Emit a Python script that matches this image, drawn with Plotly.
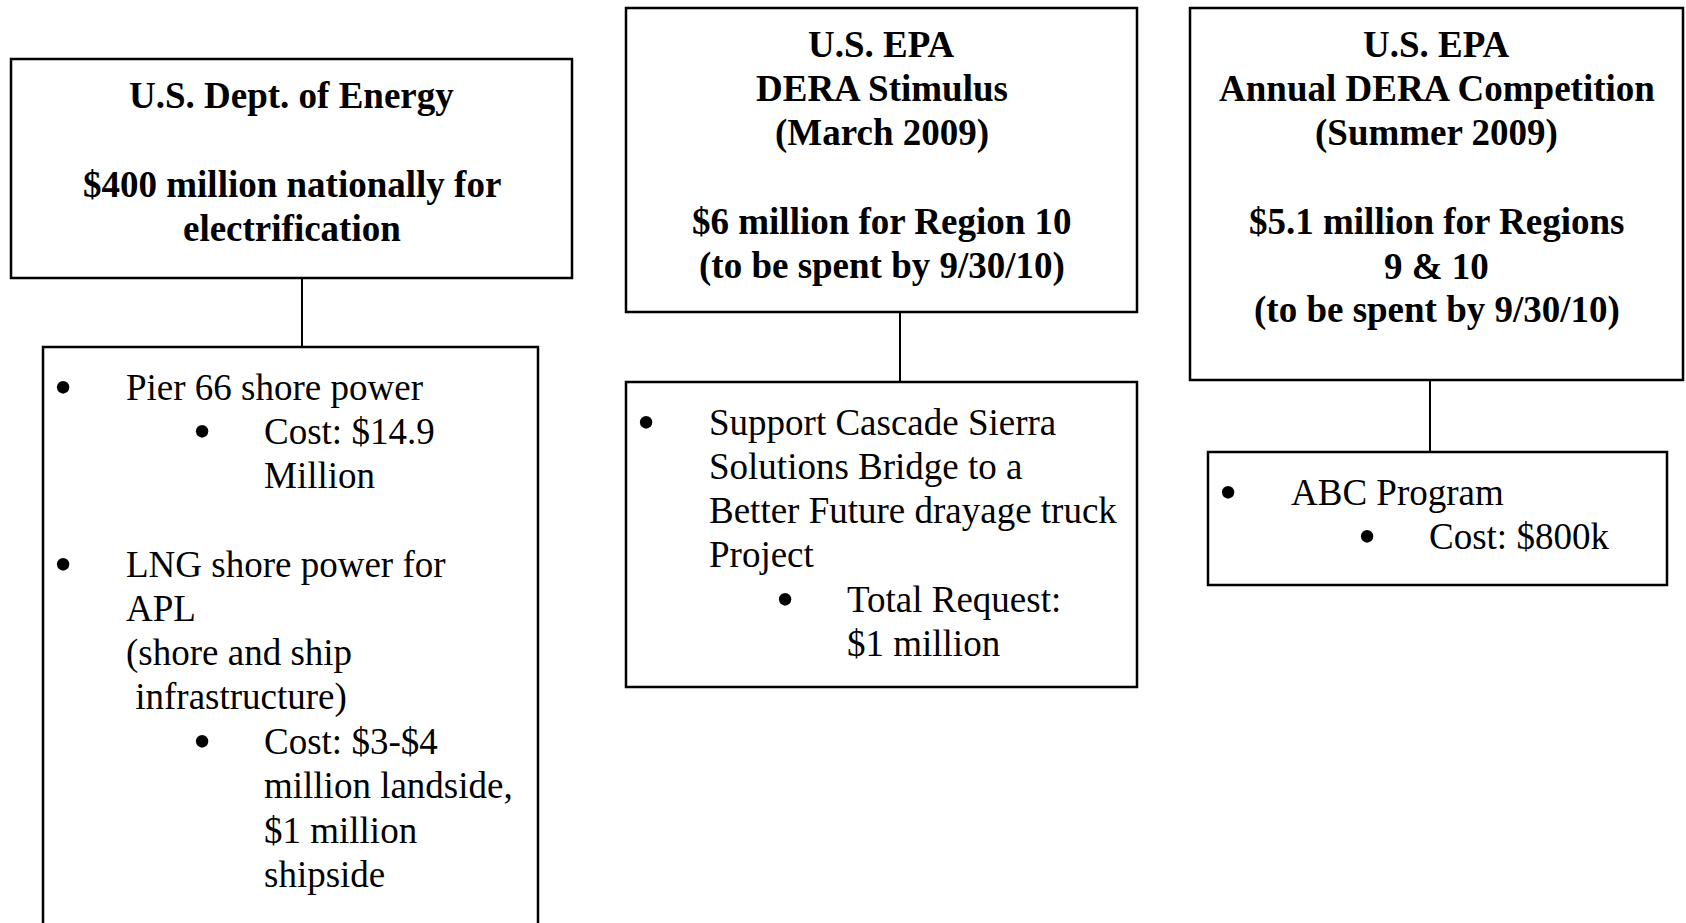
import plotly.graph_objects as go

# ---- content ----
doe_header = ["U.S. Dept. of Energy", "", "$400 million nationally for", "electrification"]
dera_header = ["U.S. EPA", "DERA Stimulus", "(March 2009)", "",
               "$6 million for Region 10", "(to be spent by 9/30/10)"]
annual_header = ["U.S. EPA", "Annual DERA Competition", "(Summer 2009)", "",
                 "$5.1 million for Regions", "9 & 10", "(to be spent by 9/30/10)"]

# (indent level, has bullet, text)
doe_items = [
    (1, True, "Pier 66 shore power"),
    (2, True, "Cost: $14.9"),
    (2, False, "Million"),
    (0, False, ""),
    (1, True, "LNG shore power for"),
    (1, False, "APL"),
    (1, False, "(shore and ship"),
    (1, False, "\u00a0infrastructure)"),
    (2, True, "Cost: $3-$4"),
    (2, False, "million landside,"),
    (2, False, "$1 million"),
    (2, False, "shipside"),
]
dera_items = [
    (1, True, "Support Cascade Sierra"),
    (1, False, "Solutions Bridge to a"),
    (1, False, "Better Future drayage truck"),
    (1, False, "Project"),
    (2, True, "Total Request:"),
    (2, False, "$1 million"),
]
annual_items = [
    (1, True, "ABC Program"),
    (2, True, "Cost: $800k"),
]

# ---- layout (pixel coordinates of the page) ----
W, H = 1686, 923
parent_boxes = [(11, 572, 59, 278), (626, 1137, 8, 312), (1190, 1683, 8, 380)]
child_boxes = [(43, 538, 347, 935), (626, 1137, 382, 687), (1208, 1667, 452, 585)]
connector_x = [302, 900, 1430]
headers = [doe_header, dera_header, annual_header]
items = [doe_items, dera_items, annual_items]

FONT = "Liberation Serif, Times New Roman, serif"
FS = 37
LH = 44.3
bullet_off = {1: 20, 2: 159}
text_off = {1: 81, 2: 219}

fig = go.Figure()
shapes = []
annotations = []

for (px0, px1, py0, py1), (cx0, cx1, cy0, cy1), lx, hdr, its in zip(
        parent_boxes, child_boxes, connector_x, headers, items):
    shapes.append(dict(type="rect", xref="x", yref="y", x0=px0, x1=px1, y0=py0, y1=py1,
                       line=dict(color="black", width=2.5), fillcolor="white", layer="below"))
    shapes.append(dict(type="rect", xref="x", yref="y", x0=cx0, x1=cx1, y0=cy0, y1=cy1,
                       line=dict(color="black", width=2.5), fillcolor="white", layer="below"))
    shapes.append(dict(type="line", xref="x", yref="y", x0=lx, x1=lx, y0=py1, y1=cy0,
                       line=dict(color="black", width=2)))
    xc = (px0 + px1) / 2
    for i, line in enumerate(hdr):
        if not line:
            continue
        annotations.append(dict(x=xc, y=py0 + 36.5 + i * LH, xref="x", yref="y",
                                text="<b>%s</b>" % line, showarrow=False,
                                xanchor="center", yanchor="middle",
                                font=dict(family=FONT, size=FS, color="black")))
    for i, (lvl, bul, txt) in enumerate(its):
        if not txt:
            continue
        y = cy0 + 40 + i * LH
        if bul:
            annotations.append(dict(x=cx0 + bullet_off[lvl], y=y, xref="x", yref="y",
                                    text="\u2022", showarrow=False,
                                    xanchor="center", yanchor="middle",
                                    font=dict(family=FONT, size=52, color="black")))
        annotations.append(dict(x=cx0 + text_off[lvl], y=y, xref="x", yref="y",
                                text=txt, showarrow=False,
                                xanchor="left", yanchor="middle",
                                font=dict(family=FONT, size=FS, color="black")))

fig.update_layout(
    width=W, height=H,
    margin=dict(l=0, r=0, t=0, b=0),
    paper_bgcolor="white", plot_bgcolor="white",
    xaxis=dict(range=[0, W], visible=False, fixedrange=True),
    yaxis=dict(range=[H, 0], visible=False, fixedrange=True),
    shapes=shapes, annotations=annotations, showlegend=False,
)

fig.write_html("out.html", config={"displayModeBar": False},
               post_script="document.body.style.margin='0';document.body.style.overflow='hidden';")
